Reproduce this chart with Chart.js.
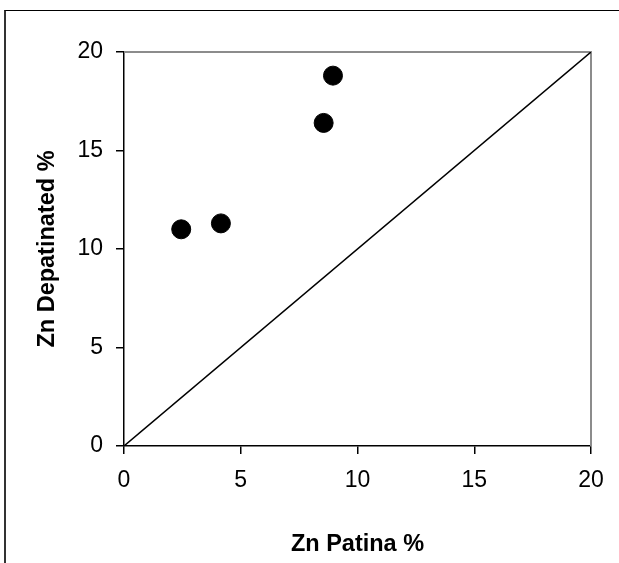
<!DOCTYPE html>
<html>
<head>
<meta charset="utf-8">
<script src="https://cdn.jsdelivr.net/npm/chart.js@4/dist/chart.umd.min.js"></script>
<style>
    html, body { margin: 0; padding: 0; background: #fff; overflow: hidden; }
    #frame {
        position: absolute; left: 4px; top: 10px; width: 700px; height: 700px;
        border-top: 1px solid #000; border-left: 2px solid #333;
    }
    #zn-chart { position: absolute; left: 0; top: 0; }
</style>
</head>
<body>
<div id="frame"></div>
<canvas id="zn-chart" width="619" height="563"></canvas>
<script>
// Zn content: patina vs. depatinated surface
const patinaZn      = [2.45, 4.15, 8.55, 8.95];
const depatinatedZn = [11.0, 11.3, 16.4, 18.8];
const equalityLine  = [0, 20];   // y = x reference
const axisTicks     = [0, 5, 10, 15, 20];

const FONT = "'Liberation Sans', Arial, sans-serif";

// gray top/right edge of the plot box
const plotBoxEdge = {
    id: 'plotBoxEdge',
    beforeDatasetsDraw(chart) {
        const { ctx, chartArea: a } = chart;
        ctx.save();
        ctx.strokeStyle = '#8c8c8c';
        ctx.lineWidth = 2;
        ctx.beginPath();
        ctx.moveTo(a.left, a.top);
        ctx.lineTo(a.right, a.top);
        ctx.lineTo(a.right, a.bottom);
        ctx.stroke();
        ctx.restore();
    }
};

const ctx = document.getElementById('zn-chart').getContext('2d');

new Chart(ctx, {
    type: 'scatter',
    data: {
        datasets: [
            {
                data: patinaZn.map((x, i) => ({ x, y: depatinatedZn[i] })),
                backgroundColor: '#000',
                borderColor: '#000',
                pointRadius: 9.5,
                pointHoverRadius: 9.5
            },
            {
                type: 'line',
                data: equalityLine.map(v => ({ x: v, y: v })),
                borderColor: '#000',
                borderWidth: 1.5,
                pointRadius: 0,
                fill: false
            }
        ]
    },
    options: {
        responsive: false,
        animation: false,
        devicePixelRatio: 1,
        layout: { padding: { top: 52, right: 28, left: 0, bottom: 0 } },
        scales: {
            x: {
                type: 'linear',
                min: axisTicks[0],
                max: axisTicks[axisTicks.length - 1],
                afterBuildTicks: s => { s.ticks = axisTicks.map(v => ({ value: v })); },
                afterFit: s => { s.height = 117; },
                grid: { drawOnChartArea: false, drawTicks: true, tickLength: 8, color: '#000', lineWidth: 1.5 },
                border: { color: '#000', width: 1.5 },
                ticks: { color: '#000', padding: 13, font: { family: FONT, size: 23 } },
                title: {
                    display: true, text: 'Zn Patina %', color: '#000',
                    font: { family: FONT, size: 23.5, weight: 'bold' },
                    padding: { top: 0, bottom: 4 }
                }
            },
            y: {
                type: 'linear',
                min: axisTicks[0],
                max: axisTicks[axisTicks.length - 1],
                afterBuildTicks: s => { s.ticks = axisTicks.map(v => ({ value: v })); },
                afterFit: s => { s.width = 124; },
                grid: { drawOnChartArea: false, drawTicks: true, tickLength: 8, color: '#000', lineWidth: 1.5 },
                border: { color: '#000', width: 1.5 },
                ticks: { color: '#000', padding: 13, font: { family: FONT, size: 23 } },
                title: {
                    display: true, text: 'Zn Depatinated %', color: '#000',
                    font: { family: FONT, size: 23.5, weight: 'bold' },
                    padding: { top: 33, bottom: 0 }
                }
            }
        },
        plugins: {
            legend: { display: false },
            tooltip: { enabled: false }
        }
    },
    plugins: [plotBoxEdge]
});
</script>
</body>
</html>
